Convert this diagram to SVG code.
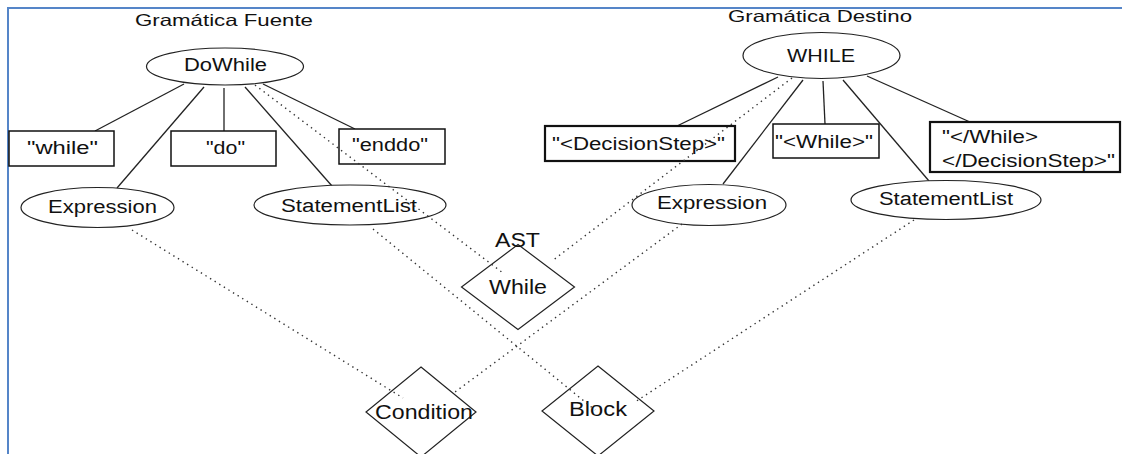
<svg xmlns="http://www.w3.org/2000/svg" width="1122" height="454" viewBox="0 0 1122 454">
<style>
  text { font-family: "Liberation Sans", Arial, sans-serif; fill: #111; }
  .lbl { font-size: 18px; }
  .hdr { font-size: 16.5px; }
  .ast { font-size: 20px; }
  .shape { fill: #fff; stroke: #222; stroke-width: 1.2; }
  .box { fill: #fff; stroke: #111; stroke-width: 1.5; }
  .boxb { fill: #fff; stroke: #111; stroke-width: 2.2; }
  .edge { stroke: #222; stroke-width: 1.3; fill: none; }
  .map { stroke: #333; stroke-width: 1.4; stroke-dasharray: 1.4 4; fill: none; }
</style>
<rect x="0" y="0" width="1122" height="454" fill="#fff"/>
<g id="frame">
  <path d="M8,454 L8,8 L1122,8" fill="none" stroke="#5585c8" stroke-width="2"/>
</g>
<g id="headers">
  <text class="hdr" x="224" y="26" text-anchor="middle" textLength="178" lengthAdjust="spacingAndGlyphs">Gramática Fuente</text>
  <text class="hdr" x="820" y="22" text-anchor="middle" textLength="184" lengthAdjust="spacingAndGlyphs">Gramática Destino</text>
</g>
<g id="connectors">
  <line class="edge" x1="184" y1="84" x2="95" y2="131"/>
  <line class="edge" x1="204" y1="87" x2="117" y2="188"/>
  <line class="edge" x1="224" y1="88" x2="224" y2="131"/>
  <line class="edge" x1="245" y1="87" x2="332" y2="186"/>
  <line class="edge" x1="263" y1="84" x2="355" y2="129"/>
  <line class="edge" x1="778" y1="77" x2="677" y2="126"/>
  <line class="edge" x1="803" y1="80" x2="723" y2="184"/>
  <line class="edge" x1="823" y1="81" x2="825" y2="124"/>
  <line class="edge" x1="843" y1="80" x2="929" y2="181"/>
  <line class="edge" x1="867" y1="76" x2="970" y2="122"/>
</g>
<g id="n-dowhile"><ellipse class="shape" cx="225" cy="66.5" rx="78.5" ry="18.5"/><text class="lbl" x="225.5" y="71" text-anchor="middle" textLength="83" lengthAdjust="spacingAndGlyphs">DoWhile</text></g>
<g id="n-while-kw"><rect class="box" x="9" y="131" width="105" height="35"/><text class="lbl" x="62.5" y="154" text-anchor="middle" textLength="71" lengthAdjust="spacingAndGlyphs">"while"</text></g>
<g id="n-do-kw"><rect class="box" x="171" y="131" width="105" height="35"/><text class="lbl" x="225.5" y="154" text-anchor="middle" textLength="39" lengthAdjust="spacingAndGlyphs">"do"</text></g>
<g id="n-enddo-kw"><rect class="box" x="339" y="129" width="106" height="35"/><text class="lbl" x="390" y="151" text-anchor="middle" textLength="76" lengthAdjust="spacingAndGlyphs">"enddo"</text></g>
<g id="n-expr-l"><ellipse class="shape" cx="97.5" cy="207.5" rx="76.5" ry="20"/><text class="lbl" x="102.5" y="213" text-anchor="middle" textLength="109" lengthAdjust="spacingAndGlyphs">Expression</text></g>
<g id="n-stmt-l"><ellipse class="shape" cx="350" cy="205" rx="96" ry="20"/><text class="lbl" x="349" y="212" text-anchor="middle" textLength="136" lengthAdjust="spacingAndGlyphs">StatementList</text></g>
<g id="n-WHILE"><ellipse class="shape" cx="821.5" cy="55.5" rx="78.5" ry="23"/><text class="lbl" x="821" y="62" text-anchor="middle" textLength="68" lengthAdjust="spacingAndGlyphs">WHILE</text></g>
<g id="n-decstep"><rect class="boxb" x="545" y="126" width="190" height="35"/><text class="lbl" x="638.5" y="150" text-anchor="middle" textLength="173" lengthAdjust="spacingAndGlyphs">"&lt;DecisionStep&gt;"</text></g>
<g id="n-whiletag"><rect class="box" x="773" y="124" width="106" height="34"/><text class="lbl" x="824" y="148" text-anchor="middle" textLength="98" lengthAdjust="spacingAndGlyphs">"&lt;While&gt;"</text></g>
<g id="n-closetags"><rect class="boxb" x="930" y="122" width="190" height="50"/><text class="lbl" x="942" y="143" textLength="96" lengthAdjust="spacingAndGlyphs">"&lt;/While&gt;</text><text class="lbl" x="942" y="167" textLength="173" lengthAdjust="spacingAndGlyphs">&lt;/DecisionStep&gt;"</text></g>
<g id="n-expr-r"><ellipse class="shape" cx="709" cy="205" rx="77" ry="20.5"/><text class="lbl" x="712" y="209" text-anchor="middle" textLength="110" lengthAdjust="spacingAndGlyphs">Expression</text></g>
<g id="n-stmt-r"><ellipse class="shape" cx="946" cy="200" rx="95" ry="19.5"/><text class="lbl" x="946" y="205" text-anchor="middle" textLength="134" lengthAdjust="spacingAndGlyphs">StatementList</text></g>
<g id="n-ast-while"><polygon class="shape" points="518,244.5 574.5,287 518,329.5 461.5,287"/><text class="ast" x="517.5" y="247" text-anchor="middle" textLength="45" lengthAdjust="spacingAndGlyphs">AST</text><text class="ast" x="518" y="294" text-anchor="middle" textLength="58" lengthAdjust="spacingAndGlyphs">While</text></g>
<g id="n-condition"><polygon class="shape" points="421,367 476,412 421,457 366,412"/><text class="ast" x="424" y="419" text-anchor="middle" textLength="98" lengthAdjust="spacingAndGlyphs">Condition</text></g>
<g id="n-block"><polygon class="shape" points="598,366 654,411 598,456 542,411"/><text class="ast" x="598" y="416" text-anchor="middle" textLength="58" lengthAdjust="spacingAndGlyphs">Block</text></g>
<g id="mappings">
  <line class="map" x1="255" y1="85" x2="503" y2="273"/>
  <line class="map" x1="792" y1="78" x2="552" y2="261"/>
  <line class="map" x1="132" y1="230" x2="403" y2="398"/>
  <line class="map" x1="682" y1="224" x2="455" y2="392"/>
  <line class="map" x1="373" y1="229" x2="595" y2="410"/>
  <line class="map" x1="914" y1="220" x2="635" y2="402"/>
</g>
</svg>
